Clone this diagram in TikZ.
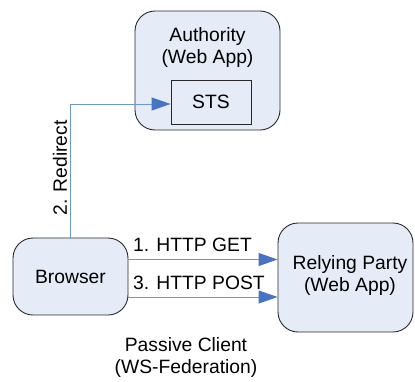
\documentclass[tikz,border=0pt]{standalone}
\usepackage{fontspec}
\setmainfont{Liberation Sans}
\usetikzlibrary{arrows.meta}
\definecolor{boxfill}{RGB}{230,236,247}
\definecolor{boxline}{RGB}{40,40,40}
\definecolor{flow}{RGB}{110,150,210}
\definecolor{flowtip}{RGB}{70,115,195}
\tikzset{
  appbox/.style={draw=boxline, fill=boxfill, line width=0.9pt, rounded corners=20pt,
    align=center, inner sep=0pt},
  innerbox/.style={draw=boxline, fill=boxfill, line width=0.9pt, inner sep=0pt},
  flowline/.style={draw=flow, line width=1pt,
    -{Triangle[length=19pt,width=13pt,fill=flowtip,color=flowtip]}},
  lbl/.style={inner sep=0pt, align=center},
}
\begin{document}
\begin{tikzpicture}[x=1pt,y=-1pt,font=\fontsize{19.3}{22}\selectfont]
\useasboundingbox (0,0) rectangle (415,381);
% application boxes
\node[appbox, minimum width=145pt, minimum height=119pt] (auth) at (207.5,70.5) {};
\node[lbl] (authtxt) at (207.5,48) {Authority\\(Web App)};
\node[innerbox, minimum width=80pt, minimum height=44pt] (sts) at (211,102) {STS};
\node[appbox, minimum width=115pt, minimum height=77pt] (browser) at (70.5,276.5) {Browser};
\node[appbox, minimum width=135pt, minimum height=109pt] (rp) at (345.5,277.5) {};
\node[lbl] (rptxt) at (350,276) {Relying Party\\(Web App)};
% message flows
\coordinate (bend) at (70,104);
\draw[flowline] (browser.north -| bend) -- (bend) -- (sts.west |- bend);
\draw[flowline] (browser.east |- 0,259.5) -- (rp.west |- 0,259.5);
\draw[flowline] (browser.east |- 0,297) -- (rp.west |- 0,297);
% labels
\node[lbl, rotate=90] (redir) at (60,168) {2. Redirect};
\node[lbl, anchor=base west] (get) at (133,251) {1. HTTP GET};
\node[lbl, anchor=base west] (post) at (133,289) {3. HTTP POST};
\node[lbl] (caption) at (186,357) {Passive Client\\(WS-Federation)};
\end{tikzpicture}
\end{document}
